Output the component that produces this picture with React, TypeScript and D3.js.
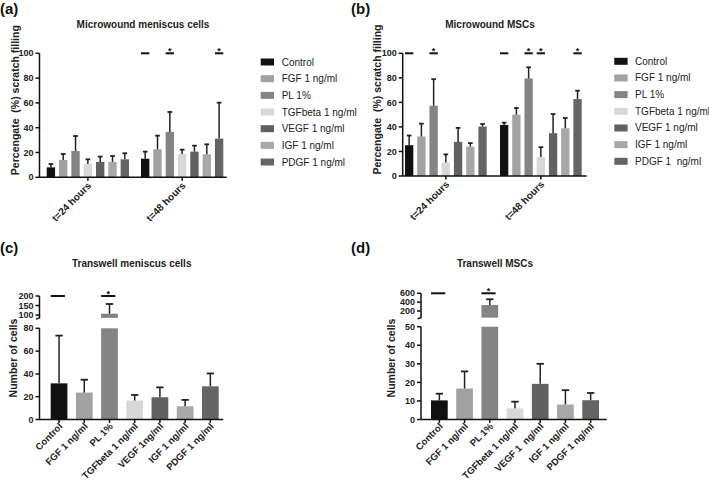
import React from 'react';
import * as d3 from 'd3';

// ---------- data ----------
const seriesA = ['Control', 'FGF 1 ng/ml', 'PL 1%', 'TGFbeta 1 ng/ml', 'VEGF 1 ng/ml', 'IGF 1 ng/ml', 'PDGF 1 ng/ml'];
const seriesB = ['Control', 'FGF 1 ng/ml', 'PL 1%', 'TGFbeta 1 ng/ml', 'VEGF 1 ng/ml', 'IGF 1 ng/ml', 'PDGF 1  ng/ml'];
const groups = ['t=24 hours', 't=48 hours'];
const colors = ['#111111', '#a2a2a2', '#848484', '#d8d8d8', '#616161', '#a8a8a8', '#656565'];

// panel (a) Microwound meniscus cells: mean and mean+SD per group
const aMean24 = [8, 14, 21.2, 10.7, 12.4, 12.4, 14.5];
const aUpper24 = [10.7, 18.8, 33.3, 14.5, 16.7, 17.2, 19.4];
const aMean48 = [15, 22.6, 36.6, 18.8, 20.7, 18.5, 31.2];
const aUpper48 = [20.7, 33.6, 52.7, 22.3, 25.5, 26.6, 60.2];
const aSig: [number, number, string][] = [[1, 0, ''], [1, 2, '*'], [1, 6, '*']];

// panel (b) Microwound MSCs
const bMean24 = [25.1, 32.2, 57.3, 11, 27.8, 24, 40.3];
const bUpper24 = [33, 42.7, 78.9, 17.6, 39.2, 26.8, 42.4];
const bMean48 = [41.6, 50, 79.5, 15.4, 34.9, 38.9, 62.7];
const bUpper48 = [43.5, 55.4, 88.6, 23.5, 50.5, 47.3, 69.5];
const bSig: [number, number, string][] = [[0, 0, ''], [0, 2, '*'], [1, 0, ''], [1, 2, '*'], [1, 3, '*'], [1, 6, '*']];

const pctTicks = [0, 20, 40, 60, 80, 100];

// panel (c) Transwell meniscus cells
const cCats = ['Control', 'FGF 1 ng/ml', 'PL 1%', 'TGFbeta 1 ng/ml', 'VEGF 1ng/ml', 'IGF 1 ng/ml', 'PDGF 1 ng/ml'];
const cMean = [31.7, 23.6, 107, 16.6, 19.5, 11.6, 29.1];
const cUpper = [73.6, 34.9, 158, 21.5, 28.2, 17.2, 40.4];
const cLowTicks = [0, 20, 40, 60, 80];
const cHighTicks = [100, 150, 200];
const cSig: [number, string][] = [[0, ''], [2, '*']];

// panel (d) Transwell MSCs
const dCats = ['Control', 'FGF 1 ng/ml', 'PL 1%', 'TGFbeta 1 ng/ml', 'VEGF 1  ng/ml', 'IGF 1 ng/ml', 'PDGF 1 ng/ml'];
const dMean = [10.3, 16.7, 336, 6, 19.2, 8.1, 10.4];
const dUpper = [13.9, 25.9, 465, 9.6, 30, 15.8, 14.3];
const dLowTicks = [0, 10, 20, 30, 40, 50];
const dHighTicks = [200, 400, 600];
const dSig: [number, string][] = [[0, ''], [2, '*']];

const FONT = '"Liberation Sans", Arial, Helvetica, sans-serif';
const AX = '#111';
const ERR = '#222';

type GroupedProps = {
  axisX: number; xEnd: number; yBottom: number; yTop: number;
  gRange: [number, number]; gPad: number;
  means: number[][]; uppers: number[][]; sig: [number, number, string][];
  series: string[]; title: string; titleX: number; yLabel: string; yLabelX: number;
  legendSwX: number; legendTxX: number; legendY0: number; legendStep: number;
};

function Grouped(p: GroupedProps) {
  const y = d3.scaleLinear().domain([0, 100]).range([p.yBottom, p.yTop]);
  const x0 = d3.scaleBand().domain(groups).range(p.gRange).paddingInner(p.gPad).paddingOuter(0);
  const x1 = d3.scaleBand().domain(p.series).range([0, x0.bandwidth()]).paddingInner(0.32).paddingOuter(0);
  const bw = x1.bandwidth();
  return (
    <g fontFamily={FONT}>
      <text x={p.titleX} y={28} textAnchor="middle" fontSize={10} fontWeight="bold" fill="#222">{p.title}</text>
      <text transform={`translate(${p.yLabelX},${(p.yBottom + 10 + 5) / 2 + 4}) rotate(-90)`} textAnchor="middle" fontSize={10.5} fontWeight="bold" fill="#222" style={{ whiteSpace: 'pre' }}>{p.yLabel}</text>
      {groups.map((g, gi) => p.series.map((s, si) => {
        const v = p.means[gi][si];
        const u = p.uppers[gi][si];
        const bx = (x0(g) as number) + (x1(s) as number);
        const cx = bx + bw / 2;
        return (
          <g key={g + s}>
            <rect x={bx} y={y(v)} width={bw} height={y(0) - y(v)} fill={colors[si]} />
            <line x1={cx} x2={cx} y1={y(v)} y2={y(u)} stroke={ERR} strokeWidth={1.5} />
            <line x1={cx - bw * 0.28} x2={cx + bw * 0.28} y1={y(u)} y2={y(u)} stroke={ERR} strokeWidth={1.8} />
          </g>
        );
      }))}
      {p.sig.map(([gi, si, lab], i) => {
        const bx = (x0(groups[gi]) as number) + (x1(p.series[si]) as number);
        return (
          <g key={'s' + i}>
            <line x1={bx} x2={bx + bw} y1={y(100)} y2={y(100)} stroke={AX} strokeWidth={2} />
            {lab && <text x={bx + bw / 2} y={y(100) + 0.5} textAnchor="middle" fontSize={9} fontWeight="bold" fill={AX}>{lab}</text>}
          </g>
        );
      })}
      <line x1={p.axisX} x2={p.axisX} y1={p.yBottom} y2={p.yTop} stroke={AX} strokeWidth={1.5} />
      <line x1={p.axisX} x2={p.xEnd} y1={p.yBottom} y2={p.yBottom} stroke={AX} strokeWidth={1.5} />
      {pctTicks.map(t => (
        <g key={t}>
          <line x1={p.axisX - 4} x2={p.axisX} y1={y(t)} y2={y(t)} stroke={AX} strokeWidth={1.5} />
          <text x={p.axisX - 6} y={y(t)} dy="0.35em" textAnchor="end" fontSize={9} fontWeight="bold" fill="#222">{t}</text>
        </g>
      ))}
      {groups.map(g => {
        const cx = (x0(g) as number) + x0.bandwidth() / 2;
        return (
          <g key={g}>
            <line x1={cx} x2={cx} y1={p.yBottom} y2={p.yBottom + 3.5} stroke={AX} strokeWidth={1.5} />
            <text transform={`translate(${cx + 4},${p.yBottom + 9}) rotate(-45)`} textAnchor="end" fontSize={10} fontWeight="bold" fill="#222">{g}</text>
          </g>
        );
      })}
      {p.series.map((s, i) => (
        <g key={'l' + s}>
          <rect x={p.legendSwX} y={p.legendY0 + i * p.legendStep - 3.5} width={13.3} height={7} fill={colors[i]} />
          <text x={p.legendTxX} y={p.legendY0 + i * p.legendStep} dy="0.35em" fontSize={10} fill="#222" style={{ whiteSpace: 'pre' }}>{s}</text>
        </g>
      ))}
    </g>
  );
}

type BrokenProps = {
  axisX: number; xEnd: number; barRange: [number, number];
  cats: string[]; means: number[]; uppers: number[];
  lowDomain: [number, number]; lowRange: [number, number]; lowTicks: number[];
  highDomain: [number, number]; highRange: [number, number]; highTicks: number[];
  sig: [number, string][]; title: string; titleX: number; yLabelX: number;
};

function Broken(p: BrokenProps) {
  const x = d3.scaleBand().domain(p.cats).range(p.barRange).paddingInner(0.337).paddingOuter(0);
  const bw = x.bandwidth();
  const yl = d3.scaleLinear().domain(p.lowDomain).range(p.lowRange);
  const yh = d3.scaleLinear().domain(p.highDomain).range(p.highRange);
  const lowMax = p.lowDomain[1];
  const highMin = p.highDomain[0];
  const yBottom = p.lowRange[0];
  const hb = p.highRange[0];
  const yAt = (v: number) => (v <= lowMax ? yl(v) : yh(Math.max(v, highMin)));
  return (
    <g fontFamily={FONT}>
      <text x={p.titleX} y={267} textAnchor="middle" fontSize={10} fontWeight="bold" fill="#222">{p.title}</text>
      <text transform={`translate(${p.yLabelX},358) rotate(-90)`} textAnchor="middle" fontSize={10.5} fontWeight="bold" fill="#222">Number of cells</text>
      {p.cats.map((c, i) => {
        const v = p.means[i];
        const u = p.uppers[i];
        const bx = x(c) as number;
        const cx = bx + bw / 2;
        const lowTop = yl(Math.min(v, lowMax));
        return (
          <g key={c}>
            <rect x={bx} y={lowTop} width={bw} height={yBottom - lowTop} fill={colors[i]} />
            {v > lowMax && <rect x={bx} y={yh(v)} width={bw} height={hb - yh(v)} fill={colors[i]} />}
            <line x1={cx} x2={cx} y1={yAt(v)} y2={yAt(u)} stroke={ERR} strokeWidth={1.5} />
            <line x1={cx - bw * 0.22} x2={cx + bw * 0.22} y1={yAt(u)} y2={yAt(u)} stroke={ERR} strokeWidth={1.8} />
          </g>
        );
      })}
      {p.sig.map(([ci, lab], i) => {
        const bx = x(p.cats[ci]) as number;
        const ly = yh(p.highDomain[1]);
        return (
          <g key={'s' + i}>
            <line x1={bx} x2={bx + bw * 0.85} y1={ly} y2={ly} stroke={AX} strokeWidth={2} />
            {lab && <text x={bx + bw * 0.42} y={ly + 0.5} textAnchor="middle" fontSize={9} fontWeight="bold" fill={AX}>{lab}</text>}
          </g>
        );
      })}
      <line x1={p.axisX} x2={p.axisX} y1={yBottom} y2={p.lowRange[1]} stroke={AX} strokeWidth={1.5} />
      <line x1={p.axisX} x2={p.axisX} y1={hb - 1.5} y2={p.highRange[1]} stroke={AX} strokeWidth={1.5} />
      <path d={`M${p.axisX},${hb - 2} L${p.axisX},${hb} L${p.axisX - 3.5},${hb + 1.2}`} fill="none" stroke={AX} strokeWidth={1.5} />
      <line x1={p.axisX} x2={p.xEnd} y1={yBottom} y2={yBottom} stroke={AX} strokeWidth={1.5} />
      {p.lowTicks.map(t => (
        <g key={'lt' + t}>
          <line x1={p.axisX - 4} x2={p.axisX} y1={yl(t)} y2={yl(t)} stroke={AX} strokeWidth={1.5} />
          <text x={p.axisX - 6} y={yl(t)} dy="0.35em" textAnchor="end" fontSize={9} fontWeight="bold" fill="#222">{t}</text>
        </g>
      ))}
      {p.highTicks.map(t => (
        <g key={'ht' + t}>
          <line x1={p.axisX - 4} x2={p.axisX} y1={yh(t)} y2={yh(t)} stroke={AX} strokeWidth={1.5} />
          <text x={p.axisX - 6} y={yh(t)} dy="0.35em" textAnchor="end" fontSize={9} fontWeight="bold" fill="#222">{t}</text>
        </g>
      ))}
      {p.cats.map(c => {
        const cx = (x(c) as number) + bw / 2;
        return (
          <g key={'x' + c}>
            <line x1={cx} x2={cx} y1={yBottom} y2={yBottom + 3.5} stroke={AX} strokeWidth={1.5} />
            <text transform={`translate(${cx + 4},${yBottom + 7.5}) rotate(-45)`} textAnchor="end" fontSize={9.5} fontWeight="bold" fill="#222" style={{ whiteSpace: 'pre' }}>{c}</text>
          </g>
        );
      })}
    </g>
  );
}

export default function App() {
  return (
    <svg width={709} height={482} style={{ position: 'absolute', left: 0, top: 0, background: '#fff' }}>
      <rect width={709} height={482} fill="#fff" />
      <g fontFamily={FONT} fontWeight="bold" fontSize={15} fill="#111">
        <text x={0} y={14}>(a)</text>
        <text x={351} y={14}>(b)</text>
        <text x={0} y={253}>(c)</text>
        <text x={351} y={253}>(d)</text>
      </g>
      <Grouped axisX={39.5} xEnd={226.7} yBottom={177.3} yTop={53.3} gRange={[46.7, 223.3]} gPad={0.127}
        means={[aMean24, aMean48]} uppers={[aUpper24, aUpper48]} sig={aSig} series={seriesA}
        title="Microwound meniscus cells" titleX={143} yLabel="Percengate  (%) scratch filling" yLabelX={19}
        legendSwX={260.7} legendTxX={281.7} legendY0={62} legendStep={16.67} />
      <Grouped axisX={402.7} xEnd={586.7} yBottom={176} yTop={53.3} gRange={[405, 581.7]} gPad={0.14}
        means={[bMean24, bMean48]} uppers={[bUpper24, bUpper48]} sig={bSig} series={seriesB}
        title="Microwound MSCs" titleX={490} yLabel="Percengate  (%) scratch filling" yLabelX={380.5}
        legendSwX={614.3} legendTxX={635} legendY0={61.3} legendStep={16.67} />
      <Broken axisX={39.5} xEnd={223.3} barRange={[50.7, 218.7]} cats={cCats} means={cMean} uppers={cUpper}
        lowDomain={[0, 80]} lowRange={[419.5, 328.3]} lowTicks={cLowTicks}
        highDomain={[85, 200]} highRange={[317.9, 296]} highTicks={cHighTicks}
        sig={cSig} title="Transwell meniscus cells" titleX={131.7} yLabelX={17} />
      <Broken axisX={421} xEnd={606.7} barRange={[431, 599]} cats={dCats} means={dMean} uppers={dUpper}
        lowDomain={[0, 50]} lowRange={[419.5, 326.7]} lowTicks={dLowTicks}
        highDomain={[50, 600]} highRange={[317.6, 293.3]} highTicks={dHighTicks}
        sig={dSig} title="Transwell MSCs" titleX={495} yLabelX={395} />
    </svg>
  );
}
